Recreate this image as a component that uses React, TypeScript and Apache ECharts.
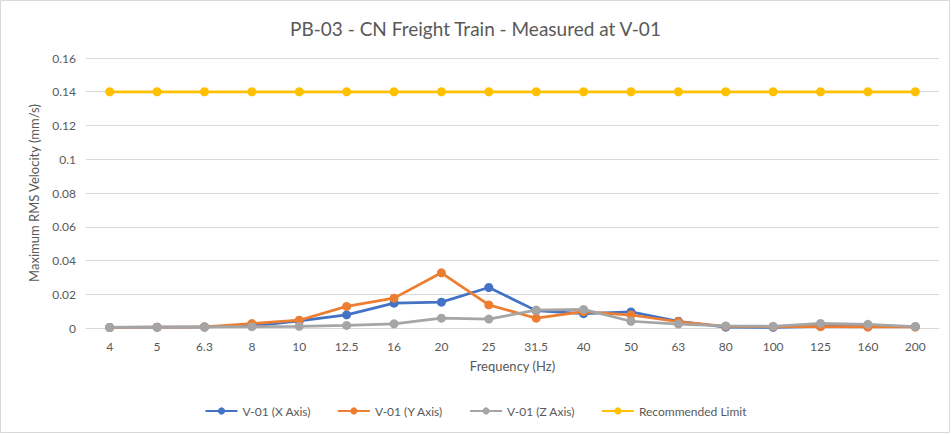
import React, { useEffect, useRef } from "react";
import * as echarts from "echarts";

const categories = ["4", "5", "6.3", "8", "10", "12.5", "16", "20", "25", "31.5", "40", "50", "63", "80", "100", "125", "160", "200"];
const xAxisValues = [0.0003, 0.0005, 0.0006, 0.0012, 0.0042, 0.0078, 0.0147, 0.0153, 0.024, 0.0103, 0.0085, 0.0095, 0.004, 0.0005, 0.0004, 0.001, 0.0008, 0.0008];
const yAxisValues = [0.0003, 0.0005, 0.0007, 0.0026, 0.0046, 0.0128, 0.0177, 0.0327, 0.0137, 0.0058, 0.0097, 0.0077, 0.0037, 0.001, 0.0008, 0.0008, 0.0006, 0.0006];
const zAxisValues = [0.0003, 0.0004, 0.0006, 0.0008, 0.001, 0.0015, 0.0025, 0.0058, 0.0053, 0.0106, 0.011, 0.004, 0.0023, 0.0012, 0.001, 0.0027, 0.0022, 0.0008];
const limitValues = [0.14, 0.14, 0.14, 0.14, 0.14, 0.14, 0.14, 0.14, 0.14, 0.14, 0.14, 0.14, 0.14, 0.14, 0.14, 0.14, 0.14, 0.14];
const seriesNames = ["V-01 (X Axis)", "V-01 (Y Axis)", "V-01 (Z Axis)", "Recommended Limit"];
const colors = ["#4472C4", "#ED7D31", "#A5A5A5", "#FFC000"];

const FONT = "Lato, 'Open Sans', sans-serif";

export default function App() {
  const ref = useRef<HTMLDivElement>(null);
  useEffect(() => {
    if (!ref.current) return;
    const chart = echarts.init(ref.current, undefined, { renderer: "svg" });
    const datasets = [xAxisValues, yAxisValues, zAxisValues, limitValues];
    chart.setOption({
      animation: false,
      color: colors,
      textStyle: { fontFamily: FONT },
      title: {
        text: "PB-03 - CN Freight Train - Measured at V-01",
        left: "center",
        top: 14,
        textStyle: { fontFamily: FONT, fontSize: 19, fontWeight: "normal", color: "#595959" },
      },
      graphic: [
        {
          type: "rect",
          shape: { x: 0.5, y: 0.5, width: 949, height: 432 },
          style: { fill: "none", stroke: "#d9d9d9", lineWidth: 1 },
          silent: true,
        },
      ],
      legend: {
        bottom: 12,
        left: "center",
        itemWidth: 32,
        itemHeight: 9,
        itemGap: 26,
        textStyle: { fontFamily: FONT, fontSize: 12, color: "#595959" },
        data: seriesNames,
      },
      grid: { left: 86, right: 12, top: 58, bottom: 106, containLabel: false },
      xAxis: {
        type: "category",
        data: categories,
        name: "Frequency (Hz)",
        nameLocation: "middle",
        nameGap: 31,
        nameTextStyle: { fontFamily: FONT, fontSize: 13, color: "#595959" },
        axisLine: { lineStyle: { color: "#d9d9d9" } },
        axisTick: { show: false },
        axisLabel: { fontFamily: FONT, fontSize: 12, color: "#595959", margin: 12 },
      },
      yAxis: {
        type: "value",
        min: 0,
        max: 0.16,
        interval: 0.02,
        name: "Maximum RMS Velocity (mm/s)",
        nameLocation: "middle",
        nameGap: 46,
        nameTextStyle: { fontFamily: FONT, fontSize: 13, color: "#595959" },
        axisLine: { show: false },
        axisTick: { show: false },
        axisLabel: {
          fontFamily: FONT,
          fontSize: 12,
          color: "#595959",
          margin: 10,
          formatter: (v: number) => (v === 0 ? "0" : String(parseFloat(v.toFixed(2)))),
        },
        splitLine: { lineStyle: { color: "#d9d9d9" } },
      },
      series: seriesNames.map((name, i) => ({
        name,
        type: "line",
        data: datasets[i],
        symbol: "circle",
        symbolSize: 9,
        lineStyle: { width: 2.75, color: colors[i] },
        itemStyle: { color: colors[i] },
        z: 2 + i,
      })),
    });
    return () => chart.dispose();
  }, []);
  return <div ref={ref} style={{ position: "fixed", left: 0, top: 0, width: 951, height: 434, background: "#fff" }} />;
}
